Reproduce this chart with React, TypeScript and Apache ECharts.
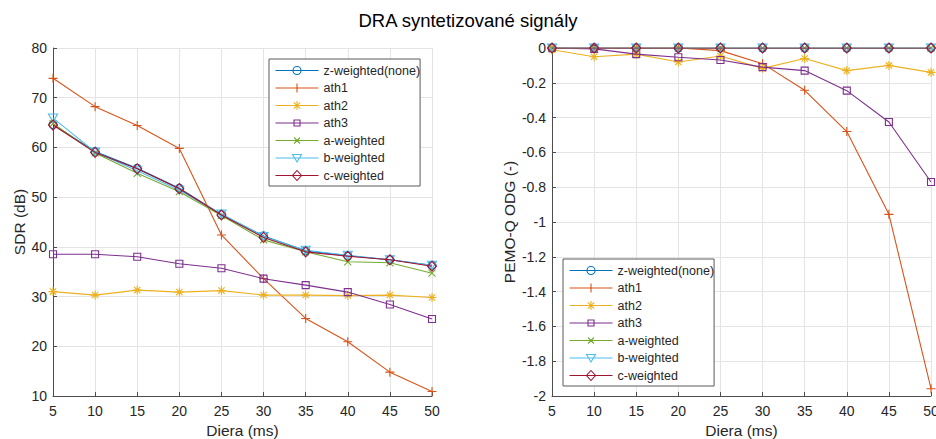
import React, { useEffect, useRef } from "react";
import * as echarts from "echarts";

const gaps = [5, 10, 15, 20, 25, 30, 35, 40, 45, 50];

const seriesNames = ["z-weighted(none)", "ath1", "ath2", "ath3", "a-weighted", "b-weighted", "c-weighted"];
const seriesColors = ["#0072BD", "#D95319", "#EDB120", "#7E2F8E", "#77AC30", "#4DBEEE", "#A2142F"];

// SDR (dB)
const sdrZ = [64.6, 59.2, 55.8, 51.8, 46.5, 42.2, 39.2, 38.2, 37.4, 36.3];
const sdrAth1 = [73.9, 68.2, 64.4, 59.8, 42.4, 33.6, 25.6, 20.9, 14.8, 10.9];
const sdrAth2 = [31.0, 30.3, 31.3, 30.9, 31.2, 30.3, 30.3, 30.2, 30.3, 29.8];
const sdrAth3 = [38.5, 38.5, 38.0, 36.6, 35.7, 33.6, 32.3, 30.9, 28.4, 25.5];
const sdrA = [64.8, 58.9, 54.8, 51.1, 46.3, 41.4, 39.0, 37.0, 36.8, 34.7];
const sdrB = [65.9, 59.1, 55.3, 51.4, 46.6, 42.1, 39.3, 38.3, 37.4, 36.3];
const sdrC = [64.5, 59.0, 55.7, 51.7, 46.4, 41.9, 39.0, 38.1, 37.4, 36.1];

// PEMO-Q ODG (-)
const odgZ = [0, 0, 0, 0, 0, 0, 0, 0, 0, 0];
const odgAth1 = [0, 0, 0, 0, -0.015, -0.09, -0.243, -0.48, -0.956, -1.958];
const odgAth2 = [-0.01, -0.05, -0.035, -0.08, -0.046, -0.117, -0.06, -0.13, -0.1, -0.14];
const odgAth3 = [0, -0.005, -0.035, -0.053, -0.069, -0.11, -0.13, -0.245, -0.425, -0.77];
const odgA = [0, 0, 0, 0, 0, 0, 0, 0, 0, 0];
const odgB = [0, 0, 0, 0, 0, 0, 0, 0, 0, 0];
const odgC = [0, 0, 0, 0, 0, 0, 0, 0, 0, 0];

const sdrSeries = [sdrZ, sdrAth1, sdrAth2, sdrAth3, sdrA, sdrB, sdrC];
const odgSeries = [odgZ, odgAth1, odgAth2, odgAth3, odgA, odgB, odgC];

const symbols = [
  "circle",
  "path://M5,0 L5,10 M0,5 L10,5",
  "path://M5,0 L5,10 M0,5 L10,5 M1.5,1.5 L8.5,8.5 M8.5,1.5 L1.5,8.5",
  "path://M0,0 L10,0 L10,10 L0,10 Z",
  "path://M0,0 L10,10 M10,0 L0,10",
  "path://M0,0 L10,0 L5,9 Z",
  "path://M5,0 L10,5 L5,10 L0,5 Z",
];
const symbolSizes: any[] = [8, 9, 9, 7, 7, [9, 8], [9, 10]];

// legend glyphs: line sample with the marker in its middle (43 x 10 box)
const legendMarks = [
  "M25.5,5 A4,4 0 1,1 17.5,5 A4,4 0 1,1 25.5,5",
  "M21.5,0.5 L21.5,9.5 M17,5 L26,5",
  "M21.5,0.5 L21.5,9.5 M17,5 L26,5 M18.3,1.8 L24.7,8.2 M24.7,1.8 L18.3,8.2",
  "M18.5,2 L24.5,2 L24.5,8 L18.5,8 Z",
  "M18.5,2 L24.5,8 M24.5,2 L18.5,8",
  "M17,1.5 L26,1.5 L21.5,9 Z",
  "M21.5,0 L26,5 L21.5,10 L17,5 Z",
];

const FONT = "Liberation Sans, Arial, Helvetica, sans-serif";
const AXIS_COLOR = "#4d4d4d";
const TEXT_COLOR = "#262626";
const GRID_COLOR = "#e4e4e4";

function makeSeries(values: number[][], axisIndex: number) {
  return values.map((vals, i) => ({
    name: seriesNames[i],
    type: "line",
    xAxisIndex: axisIndex,
    yAxisIndex: axisIndex,
    data: gaps.map((g, k) => [g, vals[k]]),
    symbol: symbols[i],
    symbolSize: symbolSizes[i],
    showAllSymbol: true,
    lineStyle: { color: seriesColors[i], width: 1.1 },
    itemStyle: { color: "none", borderColor: seriesColors[i], borderWidth: 1.1 },
    emphasis: { disabled: true },
    z: 2 + i,
  }));
}

function xAxis(gridIndex: number) {
  return {
    type: "value",
    gridIndex,
    min: 5,
    max: 50,
    interval: 5,
    name: "Diera (ms)",
    nameLocation: "middle",
    nameGap: 24,
    nameTextStyle: { fontFamily: FONT, fontSize: 15.5, color: TEXT_COLOR },
    axisLine: { show: true, onZero: false, lineStyle: { color: AXIS_COLOR, width: 1 } },
    axisTick: { show: true, inside: true, length: 4, lineStyle: { color: AXIS_COLOR } },
    axisLabel: { fontFamily: FONT, fontSize: 14, color: TEXT_COLOR, margin: 8 },
    splitLine: { show: true, lineStyle: { color: GRID_COLOR, width: 1 } },
  };
}

function yAxisBase(gridIndex: number, name: string) {
  return {
    type: "value",
    gridIndex,
    name,
    nameLocation: "middle",
    nameGap: 26,
    nameTextStyle: { fontFamily: FONT, fontSize: 15.5, color: TEXT_COLOR },
    axisLine: { show: true, onZero: false, lineStyle: { color: AXIS_COLOR, width: 1 } },
    axisTick: { show: true, inside: true, length: 4, lineStyle: { color: AXIS_COLOR } },
    splitLine: { show: true, lineStyle: { color: GRID_COLOR, width: 1 } },
  };
}

function legend(left: number, top: number) {
  return {
    data: seriesNames.map((n, i) => ({
      name: n,
      icon: "path://M0,0 M43,10 M0,5 L43,5 " + legendMarks[i],
      itemStyle: { color: "none", borderColor: seriesColors[i], borderWidth: 1.1 },
    })),
    orient: "vertical",
    left,
    top,
    itemWidth: 43,
    itemHeight: 10,
    itemGap: 2.5,
    padding: [4, 0, 3, 4],
    backgroundColor: "#ffffff",
    borderColor: "#5a5a5a",
    borderWidth: 1,
    selectedMode: false,
    textStyle: { fontFamily: FONT, fontSize: 12.5, color: TEXT_COLOR, lineHeight: 13.5 },
  };
}

export default function App() {
  const ref = useRef<HTMLDivElement>(null);
  useEffect(() => {
    if (!ref.current) return;
    const chart = echarts.init(ref.current, undefined, { renderer: "svg" });
    chart.setOption({
      animation: false,
      backgroundColor: "#ffffff",
      title: {
        text: "DRA syntetizované signály",
        left: "center",
        top: 6,
        textStyle: { fontFamily: FONT, fontSize: 18.5, fontWeight: "normal", color: "#000" },
      },
      grid: [
        { left: 53, top: 48, width: 379, height: 348, containLabel: false, outerBoundsMode: "none" },
        { left: 552, top: 48, width: 379, height: 348, containLabel: false, outerBoundsMode: "none" },
      ],
      xAxis: [xAxis(0), xAxis(1)],
      yAxis: [
        {
          ...yAxisBase(0, "SDR (dB)"),
          min: 10,
          max: 80,
          interval: 10,
          axisLabel: { fontFamily: FONT, fontSize: 14, color: TEXT_COLOR, margin: 6 },
        },
        {
          ...yAxisBase(1, "PEMO-Q ODG (-)"),
          min: -2,
          max: 0,
          interval: 0.2,
          axisLabel: {
            fontFamily: FONT,
            fontSize: 14,
            color: TEXT_COLOR,
            margin: 6,
            formatter: (v: number) => String(Math.round(v * 10) / 10),
          },
        },
      ],
      legend: [legend(269, 59), legend(563, 259)],
      series: [...makeSeries(sdrSeries, 0), ...makeSeries(odgSeries, 1)],
    });
    return () => chart.dispose();
  }, []);
  return (
    <div
      ref={ref}
      style={{ position: "fixed", left: 0, top: 0, width: 936, height: 439 }}
    />
  );
}
